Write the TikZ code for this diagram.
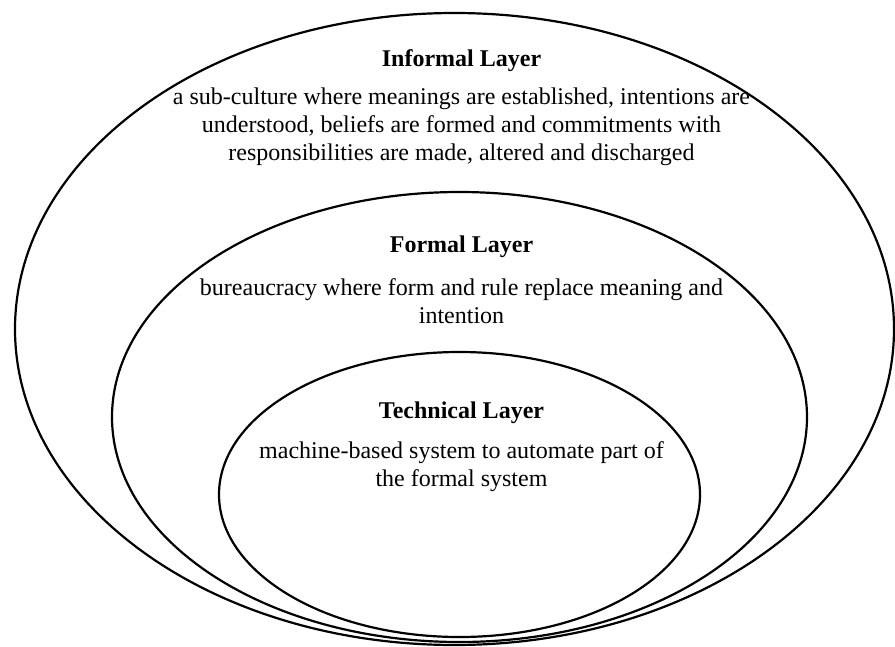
\documentclass[tikz,border=0pt]{standalone}
\usepackage{fontspec}
\setmainfont{Liberation Serif}
\usetikzlibrary{shapes.geometric}
\begin{document}
\begin{tikzpicture}[x=1pt,y=-1pt,
  layer/.style={draw=black, line width=2.2pt, ellipse, inner sep=0pt, outer sep=0pt},
  heading/.style={font=\fontsize{24}{28}\selectfont\bfseries, inner sep=0pt},
  desc/.style={font=\fontsize{24}{28}\selectfont, align=center, inner sep=0pt}]
  \useasboundingbox (0,0) rectangle (895,646);
  % nested layers, outermost first
  \node[layer, minimum width=879pt, minimum height=632pt] (informal) at (454.5,329) {};
  \node[layer, minimum width=695pt, minimum height=450pt] (formal) at (459.5,417) {};
  \node[layer, minimum width=481pt, minimum height=285pt] (technical) at (459.5,494.5) {};
  % labels
  \node[heading] (informalhead) at (461.5,61) {Informal Layer};
  \node[desc] (informaltext) at (461.5,127) {a sub-culture where meanings are established, intentions are\\ understood, beliefs are formed and commitments with\\ responsibilities are made, altered and discharged};
  \node[heading] (formalhead) at (461.5,247) {Formal Layer};
  \node[desc] (formaltext) at (461.5,301.5) {bureaucracy where form and rule replace meaning and\\ intention};
  \node[heading] (technicalhead) at (461.5,413) {Technical Layer};
  \node[desc] (technicaltext) at (461.5,467) {machine-based system to automate part of\\ the formal system};
\end{tikzpicture}
\end{document}
